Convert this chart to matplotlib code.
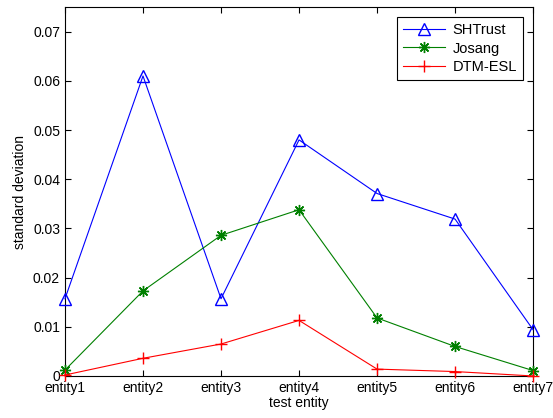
import matplotlib
matplotlib.use('Agg')
import matplotlib.pyplot as plt

plt.rcParams['font.family'] = ['Liberation Sans', 'DejaVu Sans']

entities = ['entity1', 'entity2', 'entity3', 'entity4', 'entity5', 'entity6', 'entity7']
x_pos = [1, 2, 3, 4, 5, 6, 7]

shtrust = [0.0157, 0.0610, 0.0157, 0.0480, 0.0371, 0.0319, 0.0094]
josang = [0.0012, 0.0173, 0.0286, 0.0338, 0.0118, 0.0060, 0.0011]
dtm_esl = [0.0002, 0.0036, 0.0065, 0.0113, 0.0014, 0.0009, 0.0000]

fig = plt.figure(figsize=(5.53, 4.18), dpi=100)
ax = fig.add_axes([0.1175, 0.1005, 0.8465, 0.8825])

ax.plot(x_pos, shtrust, color='blue', marker='^', markerfacecolor='none',
        markersize=8.5, linewidth=0.8, label='SHTrust', clip_on=False, zorder=3)
# asterisk marker like matlab '*'
ax.plot(x_pos, josang, color='green', marker=(8, 2, 0), markersize=8,
        markeredgewidth=1.0, linewidth=0.8, label='Josang', clip_on=False, zorder=3)
ax.plot(x_pos, dtm_esl, color='red', marker='+', markersize=9,
        linewidth=0.8, label='DTM-ESL', clip_on=False, zorder=3)

ax.set_xlim(1, 7)
ax.set_ylim(0, 0.075)
ax.set_xticks(x_pos)
ax.set_xticklabels(entities)
ax.set_yticks([0, 0.01, 0.02, 0.03, 0.04, 0.05, 0.06, 0.07])
ax.set_yticklabels(['0', '0.01', '0.02', '0.03', '0.04', '0.05', '0.06', '0.07'])
ax.tick_params(direction='in', top=True, right=True, labelsize=10, length=4, width=0.8)
for s in ax.spines.values():
    s.set_linewidth(0.8)

ax.set_xlabel('test entity', fontsize=10, labelpad=1)
ax.set_ylabel('standard deviation', fontsize=10, labelpad=4)

leg = ax.legend(loc='upper right', fontsize=10.5, handlelength=2.9, handletextpad=0.5,
                fancybox=False, framealpha=1, edgecolor='black', borderaxespad=0.7,
                labelspacing=0.3)
leg.get_frame().set_linewidth(0.8)

fig.savefig('out.png', dpi=100)
